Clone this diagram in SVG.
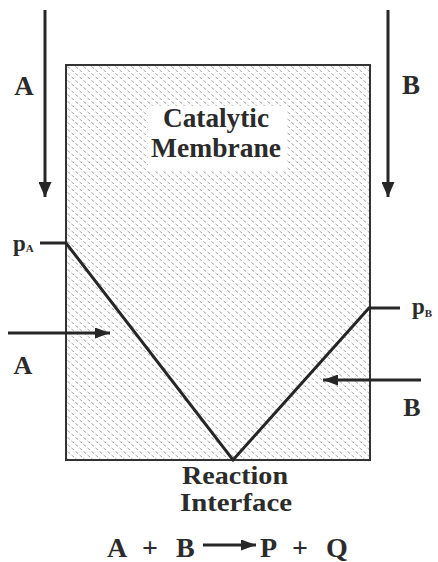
<svg xmlns="http://www.w3.org/2000/svg" width="438" height="562" viewBox="0 0 438 562" font-family="'Liberation Serif', 'Times New Roman', 'DejaVu Serif', serif">
<style>
text{font-family:"Liberation Serif","Times New Roman","DejaVu Serif",serif;font-weight:700;fill:#2b2b2b}
.ln{stroke:#262626;fill:none}
</style>
<defs>
<pattern id="hatch" width="8" height="7" patternUnits="userSpaceOnUse" x="66" y="65">
<rect width="8" height="7" fill="#fff"/>
<path d="M1.5,1.5 L4,3.5 M5.5,5 L8,7" stroke="#999" stroke-width="0.9" fill="none"/>
</pattern>
<marker id="ah" viewBox="0 0 15 13" refX="15" refY="6.5" markerWidth="15" markerHeight="13" orient="auto" markerUnits="userSpaceOnUse">
<path d="M0,0 L15,6.5 L0,13 z" fill="#262626"/>
</marker>
<marker id="ahs" viewBox="0 0 15 11" refX="15" refY="5.5" markerWidth="15" markerHeight="11" orient="auto" markerUnits="userSpaceOnUse">
<path d="M0,0 L15,5.5 L0,11 z" fill="#262626"/>
</marker>
</defs>
<rect width="438" height="562" fill="#fff"/>
<g id="membrane">
<rect x="66" y="65" width="304" height="395" fill="url(#hatch)" stroke="#333" stroke-width="2"/>
<rect x="148" y="106" width="139" height="64" fill="#fff"/>
<text x="216" y="127" font-size="27" text-anchor="middle" textLength="106" lengthAdjust="spacingAndGlyphs">Catalytic</text>
<text x="216" y="157" font-size="27" text-anchor="middle" textLength="130" lengthAdjust="spacingAndGlyphs">Membrane</text>
</g>
<g id="profile">
<polyline class="ln" points="40,243 66,243 233,460 369,308 400,308" stroke-width="3" stroke-linejoin="miter"/>
</g>
<g id="connectors">
<line class="ln" x1="45" y1="10" x2="45" y2="197" stroke-width="3" marker-end="url(#ah)"/>
<line class="ln" x1="388" y1="10" x2="388" y2="197" stroke-width="3" marker-end="url(#ah)"/>
<line class="ln" x1="8" y1="333" x2="110" y2="333" stroke-width="3" marker-end="url(#ahs)"/>
<line class="ln" x1="421" y1="380" x2="323" y2="380" stroke-width="3" marker-end="url(#ahs)"/>
<line class="ln" x1="203" y1="545" x2="256" y2="545" stroke-width="3" marker-end="url(#ahs)"/>
</g>
<g id="labels">
<text x="24" y="95" font-size="27" text-anchor="middle">A</text>
<text x="411" y="94" font-size="27" text-anchor="middle">B</text>
<text x="23" y="374" font-size="26" text-anchor="middle">A</text>
<text x="412" y="416" font-size="26" text-anchor="middle">B</text>
<text x="13" y="251" font-size="23">p<tspan font-size="11" dy="1">A</tspan></text>
<text x="412" y="314" font-size="23">p<tspan font-size="11" dy="3">B</tspan></text>
<text x="235" y="484" font-size="25" text-anchor="middle" textLength="106" lengthAdjust="spacingAndGlyphs">Reaction</text>
<text x="236" y="511" font-size="25" text-anchor="middle" textLength="112" lengthAdjust="spacingAndGlyphs">Interface</text>
</g>
<g id="equation">
<text x="107" y="557" font-size="28">A</text>
<text x="150" y="557" font-size="28" text-anchor="middle">+</text>
<text x="176" y="557" font-size="28">B</text>
<text x="260" y="557" font-size="28">P</text>
<text x="300" y="557" font-size="28" text-anchor="middle">+</text>
<text x="326" y="557" font-size="28">Q</text>
</g>
</svg>
